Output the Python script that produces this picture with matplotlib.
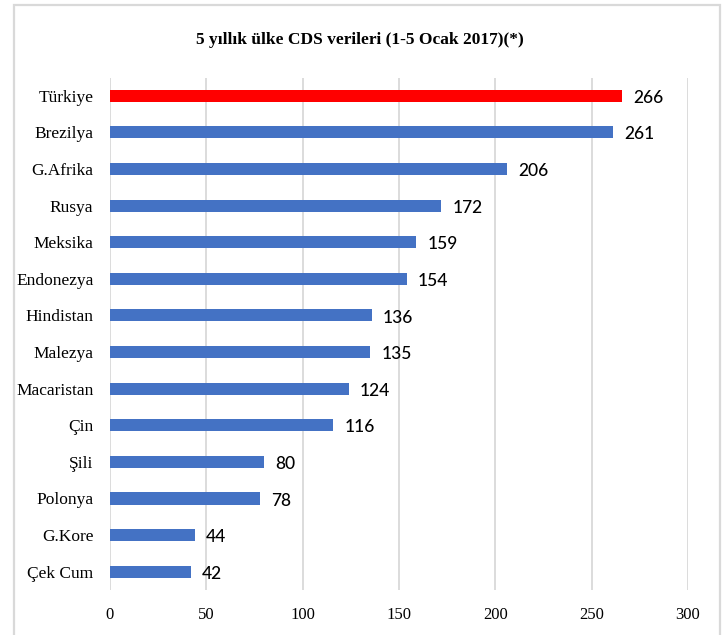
import matplotlib
matplotlib.use("Agg")
import matplotlib.pyplot as plt
from matplotlib.patches import Rectangle

countries = ["Türkiye", "Brezilya", "G.Afrika", "Rusya", "Meksika", "Endonezya",
             "Hindistan", "Malezya", "Macaristan", "Çin", "Şili", "Polonya",
             "G.Kore", "Çek Cum"]
values = [266, 261, 206, 172, 159, 154, 136, 135, 124, 116, 80, 78, 44, 42]
highlight = "Türkiye"
xticks = [0, 50, 100, 150, 200, 250, 300]
title = "5 yıllık ülke CDS verileri (1-5 Ocak 2017)(*)"

W, H = 725, 635
fig = plt.figure(figsize=(W / 100, H / 100), dpi=100)
fig.patch.set_facecolor("white")

# outer light-gray frame
fig.patches.append(Rectangle((14 / W, -0.05), (720 - 14) / W, 1.05 - 5 / H,
                             transform=fig.transFigure, fill=False,
                             edgecolor="#d9d9d9", linewidth=1.6))

ax = fig.add_axes([110 / W, 1 - 590 / H, (688 - 110) / W, (590 - 77.5) / H])
colors = ["#FF0000" if c == highlight else "#4472C4" for c in countries]
ypos = list(range(len(countries)))
ax.barh(ypos, values, height=0.33, color=colors, zorder=3)
ax.set_ylim(len(countries) - 0.5, -0.5)
ax.set_xlim(0, 300)
ax.set_xticks(xticks)
ax.set_xticklabels([str(t) for t in xticks], family="Liberation Serif", fontsize=12)
ax.set_yticks(ypos)
ax.set_yticklabels(countries, family="Liberation Serif", fontsize=12.5)
ax.tick_params(axis="both", length=0)
ax.tick_params(axis="y", pad=12)
ax.tick_params(axis="x", pad=12)
ax.grid(axis="x", color="#d9d9d9", linewidth=1.3, zorder=0)
for s in ax.spines.values():
    s.set_visible(False)

for y, v in zip(ypos, values):
    ax.annotate(str(v), (v, y), xytext=(8, -1.5), textcoords="offset points",
                va="center", ha="left", fontsize=12.5, family="Lato",
                fontweight="medium", color="black")

fig.text(0.497, 1 - 40 / H, title, ha="center", va="center",
         family="Liberation Serif", fontweight="bold", fontsize=12.5)

fig.savefig("out.png", dpi=100, facecolor="white")
